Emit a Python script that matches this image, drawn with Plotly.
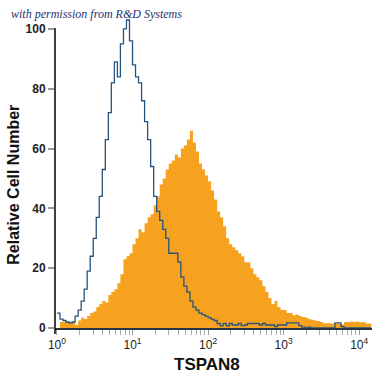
import plotly.graph_objects as go

# Channel grid: log10 bin width (flow-cytometry channels), 104 channels
bin_width_log = 0.04
n_bins = 104

isotype = [5, 3, 2.5, 2, 1.7, 2, 4, 6, 9, 13,
           19, 24, 30, 37, 44, 53, 63, 72, 82, 89,
           84, 95, 100, 103, 96, 88, 84, 82, 76, 69,
           63, 54, 44, 39, 36, 33, 30, 25, 25, 25,
           22, 17, 14, 12, 9, 7, 6, 5, 4.5, 4,
           3.5, 3, 2.5, 1.5, 0.7, 1.5, 0.7, 1.5, 1, 1,
           1.5, 0.8, 1, 1.5, 1.5, 1.5, 1.5, 1, 1.5, 1,
           1, 1, 0.5, 1, 1, 1, 1.7, 1.7, 1.7, 1.7,
           0.8, 0.3, 0, 0.3, 0, 0, 0, 0, 0, 0,
           0, 0, 1.7, 1.7, 0.5, 0, 0, 0, 0, 0,
           0, 0, 0, 0]

tspan8 = [0, 2, 2, 2.2, 2, 2, 1, 2.5, 3.5, 3,
          4, 5, 5.5, 7, 8, 9, 8.5, 11, 12, 13,
          15, 18, 23, 24, 25, 28, 30, 33, 32, 35,
          37, 38, 41, 44, 48, 50, 53, 55, 56, 58,
          57, 60, 61, 63, 66, 62, 59, 55, 53, 51,
          49, 46, 43, 39, 37, 34, 30, 28, 27, 26,
          25, 24, 22, 22, 20, 18, 17, 16, 14, 12,
          10, 8, 9, 7, 6, 6, 5, 5, 4.3, 4.5,
          4, 3.7, 3.5, 3, 2.8, 2.5, 2.3, 2, 1.6, 1.6,
          1.6, 1.5, 1.5, 1.5, 1.2, 2, 2, 2.2, 2, 2.2,
          1.8, 2, 1.5, 1.5]

major_ticks = [1, 10, 100, 1000, 10000]
major_labels = ["10<sup>0</sup>", "10<sup>1</sup>", "10<sup>2</sup>",
                "10<sup>3</sup>", "10<sup>4</sup>"]
minor_ticks = [m * d for d in [1, 10, 100, 1000] for m in range(2, 10)] + [20000]
y_ticks = [0, 20, 40, 60, 80, 100]

edges = [10 ** (bin_width_log * i) for i in range(n_bins + 1)]
iso_y = isotype + [isotype[-1]]
ts_y = tspan8 + [tspan8[-1]]

fig = go.Figure()
fig.add_trace(go.Scatter(
    x=edges, y=ts_y, mode="lines", line=dict(shape="hv", width=0, color="#F7A21E"),
    fill="tozeroy", fillcolor="#F7A21E", hoverinfo="skip", showlegend=False))
fig.add_trace(go.Scatter(
    x=edges, y=iso_y, mode="lines", line=dict(shape="hv", width=1.3, color="#25537F"),
    hoverinfo="skip", showlegend=False))

YMAX = 104
fig.update_layout(
    width=375, height=375,
    margin=dict(l=55, r=3, t=17, b=47),
    paper_bgcolor="white", plot_bgcolor="white",
    font=dict(family="Liberation Sans, Arial, sans-serif", color="#222"),
    xaxis=dict(type="log", range=[-0.026, 4.17], automargin=False,
               tickvals=major_ticks, ticktext=major_labels,
               ticks="outside", ticklen=5, tickcolor="#999", tickwidth=1,
               tickfont=dict(size=12, color="#222"),
               showline=True, linecolor="#2a3440", linewidth=1.5,
               showgrid=False, zeroline=False,
               minor=dict(tickvals=minor_ticks, ticks="outside", ticklen=5,
                          tickcolor="#aaa", tickwidth=1, showgrid=False)),
    yaxis=dict(range=[0, YMAX], tickvals=y_ticks, automargin=False,
               ticktext=["<b>%d</b>" % v for v in y_ticks],
               ticks="outside", ticklen=6, tickcolor="#999", tickwidth=1.5,
               tickfont=dict(size=12, color="#222", family="Liberation Sans, Arial, sans-serif"),
               showline=False, showgrid=False, zeroline=False),
)

# y axis line (extends slightly below the x axis, stops at ~100)
fig.add_shape(type="line", xref="paper", yref="paper",
              x0=0, x1=0, y0=-6 / 311, y1=100.3 / YMAX,
              line=dict(color="black", width=1.5))

fig.add_annotation(text="<b>TSPAN8</b>", xref="paper", yref="paper",
                   x=0.48, y=-0.08, yanchor="top", showarrow=False,
                   font=dict(size=17, color="#111"))
fig.add_annotation(text="<b>Relative Cell Number</b>", xref="paper", yref="paper",
                   x=-0.13, xanchor="center", y=0.46, textangle=-90, showarrow=False,
                   font=dict(size=16, color="#111"))
fig.add_annotation(text="<i>with permission from R&amp;D Systems</i>", xref="paper", yref="paper",
                   x=-0.145, xanchor="left", y=1.0, yanchor="middle", yshift=3, showarrow=False,
                   font=dict(size=12, color="#1f2f6e", family="Liberation Serif, serif"))

fig.write_html("out.html", post_script="document.body.style.margin='0';",
               config={"displayModeBar": False})
